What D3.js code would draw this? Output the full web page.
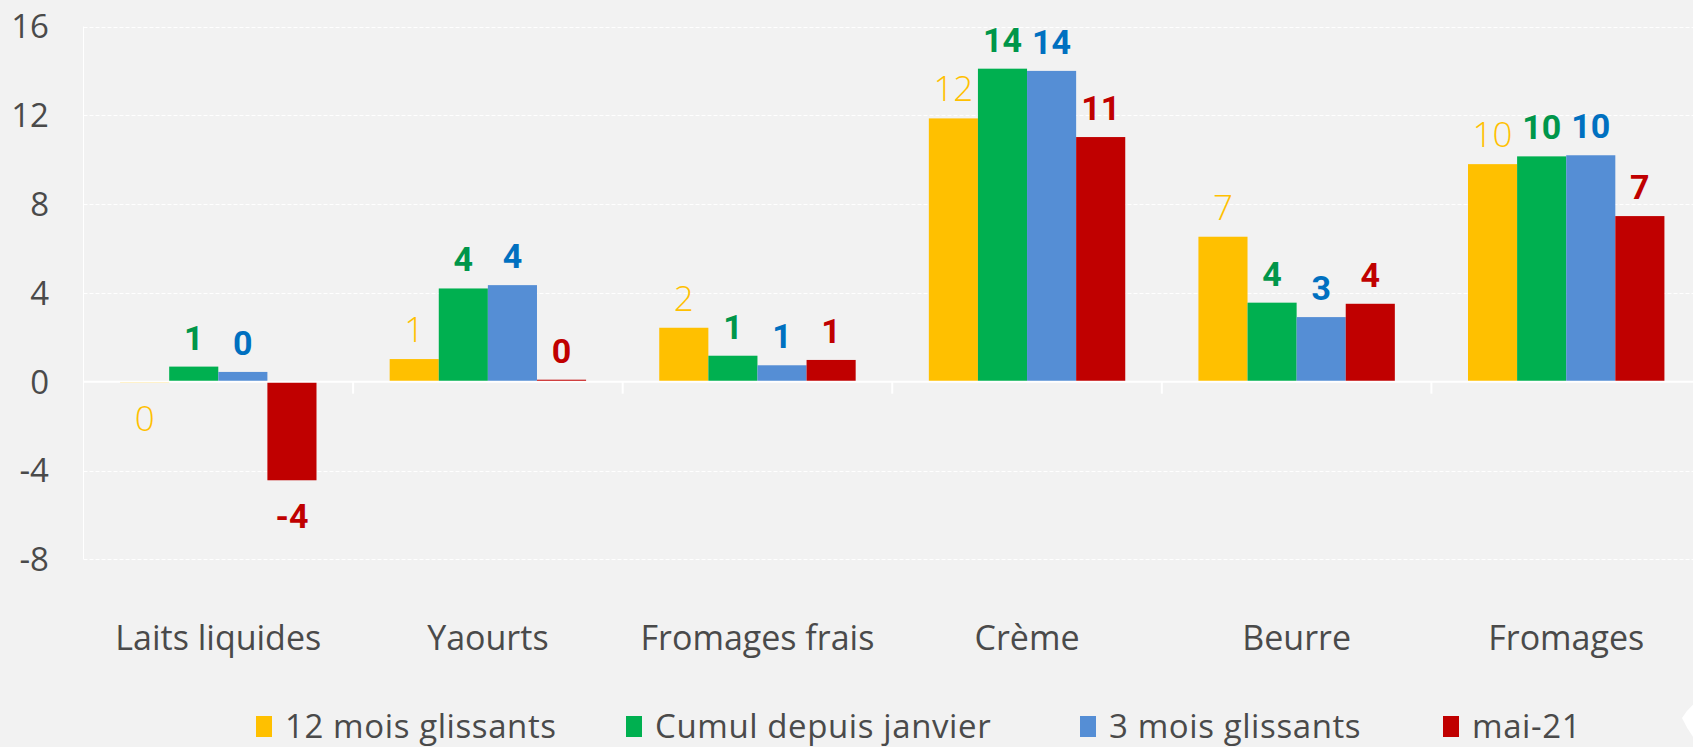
<!DOCTYPE html>
<html lang="fr">
  <head>
    <meta charset="UTF-8" />
    <title>Fabrications laitières</title>
    <script src="https://d3js.org/d3.v7.min.js"></script>
    <style>
      html, body {
        margin: 0;
        padding: 0;
        background: #f2f2f2;
        overflow: hidden;
      }
    </style>
  </head>
  <body>
    <div id="chart"></div>
    <script>
      // data
      const categories = ["Laits liquides", "Yaourts", "Fromages frais", "Crème", "Beurre", "Fromages"];
      const seriesNames = ["12 mois glissants", "Cumul depuis janvier", "3 mois glissants", "mai-21"];
      const glissant12 = [-0.05, 1.02, 2.43, 11.86, 6.53, 9.8];
      const cumulJanvier = [0.68, 4.2, 1.17, 14.1, 3.56, 10.15];
      const glissant3 = [0.44, 4.35, 0.74, 14.0, 2.91, 10.2];
      const mai21 = [-4.44, 0.09, 0.98, 11.02, 3.51, 7.46];
      const yTicks = [-8, -4, 0, 4, 8, 12, 16];

      const seriesValues = [glissant12, cumulJanvier, glissant3, mai21];
      const barColors = ["#ffc000", "#00b050", "#558ed5", "#c00000"];
      const labelColors = ["#ffc000", "#00964a", "#0070c0", "#c00000"];
      const labelBold = [false, true, true, true];

      const textFont = "'Open Sans', sans-serif";
      const boldFont = "Roboto, sans-serif";
      const textColor = "#4a4a4a";

      const width = 1693;
      const height = 747;

      const svg = d3
        .select("#chart")
        .append("svg")
        .attr("width", width)
        .attr("height", height);

      const x0 = d3.scaleBand().domain(categories).range([83.5, 1701]).padding(0);
      const x1 = d3
        .scaleBand()
        .domain(seriesNames)
        .range([0, x0.bandwidth()])
        .paddingInner(0)
        .paddingOuter(0.745);
      const y = d3.scaleLinear().domain([-8, 16]).range([559.3, 26.5]);

      // gridlines
      svg
        .append("g")
        .selectAll("line")
        .data(yTicks.filter((d) => d !== 0))
        .enter()
        .append("line")
        .attr("x1", 83.5)
        .attr("x2", width)
        .attr("y1", (d) => Math.round(y(d)) + 0.5)
        .attr("y2", (d) => Math.round(y(d)) + 0.5)
        .attr("stroke", "#ffffff")
        .attr("stroke-width", 1)
        .attr("stroke-dasharray", "4,2");

      // left axis line
      svg
        .append("line")
        .attr("x1", 83.5)
        .attr("x2", 83.5)
        .attr("y1", y(16))
        .attr("y2", y(-8))
        .attr("stroke", "#ffffff")
        .attr("stroke-width", 1);

      // y tick labels
      svg
        .append("g")
        .selectAll("text")
        .data(yTicks)
        .enter()
        .append("text")
        .attr("x", 49)
        .attr("y", (d) => y(d))
        .attr("dy", "0.36em")
        .attr("text-anchor", "end")
        .attr("font-family", textFont)
        .attr("font-size", 33)
        .attr("fill", textColor)
        .text((d) => d);

      // bars
      const groups = svg
        .append("g")
        .selectAll("g")
        .data(categories)
        .enter()
        .append("g")
        .attr("transform", (d) => `translate(${x0(d)},0)`);

      const cells = groups
        .selectAll("g")
        .data((c, ci) =>
          seriesNames.map((s, si) => ({ s: s, si: si, v: seriesValues[si][ci] }))
        )
        .enter()
        .append("g");

      cells
        .append("rect")
        .attr("x", (d) => x1(d.s))
        .attr("width", x1.bandwidth())
        .attr("y", (d) => y(Math.max(0, d.v)))
        .attr("height", (d) => Math.max(1, Math.abs(y(d.v) - y(0))))
        .attr("fill", (d) => barColors[d.si]);

      cells
        .append("text")
        .attr("x", (d) => x1(d.s) + x1.bandwidth() / 2)
        .attr("y", (d) => (d.v >= 0 ? y(d.v) - 17 : y(d.v) + 48))
        .attr("text-anchor", "middle")
        .attr("font-size", (d) => (labelBold[d.si] ? 34 : 35))
        .attr("font-family", (d) => (labelBold[d.si] ? boldFont : textFont))
        .attr("font-weight", (d) => (labelBold[d.si] ? 700 : 300))
        .attr("fill", (d) => labelColors[d.si])
        .text((d) => (Math.round(d.v) === 0 ? "0" : Math.round(d.v)));

      // zero line and category ticks
      svg
        .append("line")
        .attr("x1", 83.5)
        .attr("x2", width)
        .attr("y1", y(0))
        .attr("y2", y(0))
        .attr("stroke", "#ffffff")
        .attr("stroke-width", 2);

      svg
        .append("g")
        .selectAll("line")
        .data(categories.slice(1))
        .enter()
        .append("line")
        .attr("x1", (d) => x0(d))
        .attr("x2", (d) => x0(d))
        .attr("y1", y(0))
        .attr("y2", y(0) + 12)
        .attr("stroke", "#ffffff")
        .attr("stroke-width", 2);

      // category labels
      svg
        .append("g")
        .selectAll("text")
        .data(categories)
        .enter()
        .append("text")
        .attr("x", (d) => x0(d) + x0.bandwidth() / 2)
        .attr("y", 650)
        .attr("text-anchor", "middle")
        .attr("font-family", textFont)
        .attr("font-size", 34)
        .attr("fill", textColor)
        .text((d) => d);

      // legend
      const legendX = [256, 626, 1080, 1443];
      const legend = svg
        .append("g")
        .selectAll("g")
        .data(seriesNames)
        .enter()
        .append("g")
        .attr("transform", (d, i) => `translate(${legendX[i]},0)`);

      legend
        .append("rect")
        .attr("x", 0)
        .attr("y", 716)
        .attr("width", 16)
        .attr("height", 21)
        .attr("fill", (d, i) => barColors[i]);

      legend
        .append("text")
        .attr("x", 29)
        .attr("y", 738)
        .attr("font-family", textFont)
        .attr("font-size", 33)
        .attr("letter-spacing", 0.6)
        .attr("fill", textColor)
        .text((d) => d);

      // white shape in the bottom right corner
      svg
        .append("path")
        .attr("d", "M1682,718 Q1690,705 1700,700 L1700,745 Q1690,735 1682,718 Z")
        .attr("fill", "#ffffff");
    </script>
  </body>
</html>
